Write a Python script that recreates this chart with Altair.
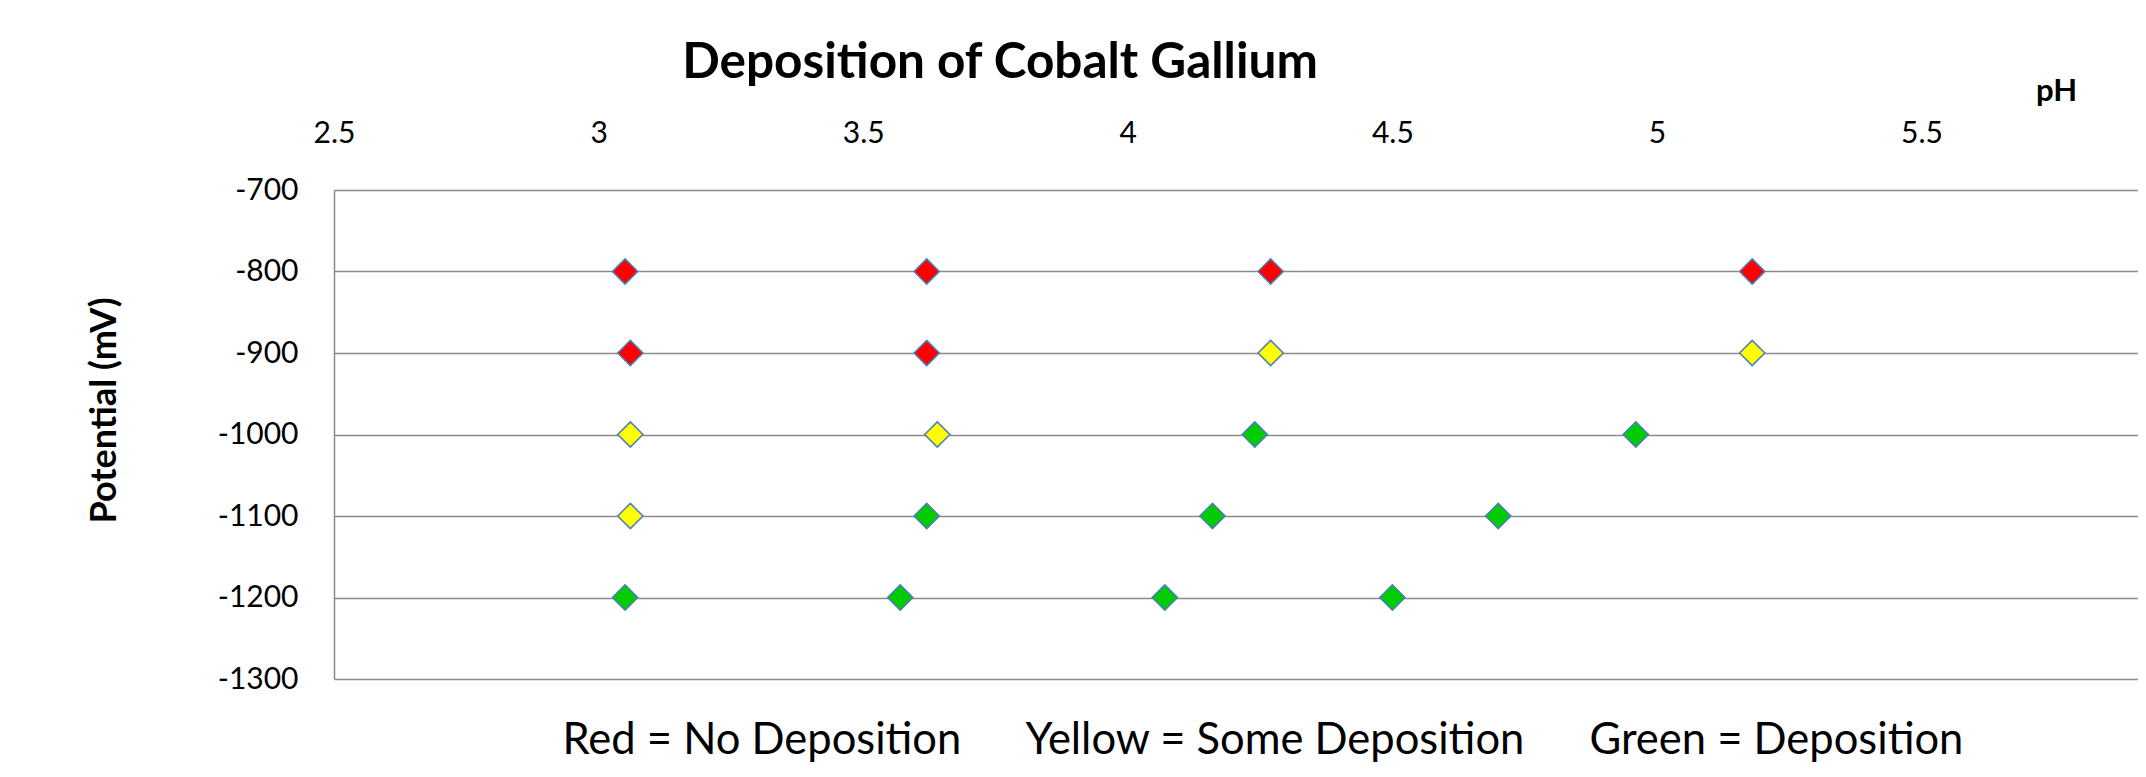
import altair as alt
import pandas as pd

# ---- data ----
ph_values = [
    3.05, 3.62, 4.27, 5.18,
    3.06, 3.62, 4.27, 5.18,
    3.06, 3.64, 4.24, 4.96,
    3.06, 3.62, 4.16, 4.70,
    3.05, 3.57, 4.07, 4.50,
]
potential_mv = [
    -800, -800, -800, -800,
    -900, -900, -900, -900,
    -1000, -1000, -1000, -1000,
    -1100, -1100, -1100, -1100,
    -1200, -1200, -1200, -1200,
]
status_labels = ["Red = No Deposition", "Yellow = Some Deposition", "Green = Deposition"]
status_colors = ["#FF0000", "#FFFF00", "#00CC00"]
R, Y, G = status_labels
statuses = [
    R, R, R, R,
    R, R, Y, Y,
    Y, Y, G, G,
    Y, G, G, G,
    G, G, G, G,
]
x_ticks = [2.5, 3, 3.5, 4, 4.5, 5, 5.5]
y_ticks = [-1300, -1200, -1100, -1000, -900, -800, -700]

df = pd.DataFrame({"pH": ph_values, "Potential": potential_mv, "Status": statuses})

FONT = "Lato"
GRID = "#8A8A8A"

chart = (
    alt.Chart(df)
    .mark_point(shape="diamond", filled=True, size=640, stroke="#4A7EBB",
                strokeWidth=1.5, opacity=1)
    .encode(
        x=alt.X(
            "pH:Q",
            scale=alt.Scale(domain=[2.5, 5.909], nice=False, zero=False),
            axis=alt.Axis(
                orient="top", values=x_ticks, format="~g", domain=False, ticks=False,
                grid=False, labelFont=FONT, labelFontSize=30, labelColor="black",
                labelPadding=42, labelFlush=False, labelOverlap=False,
                title="pH", titleFont=FONT, titleFontWeight="bold", titleFontSize=31,
                titleColor="black", titleX=1722, titleY=-90, titleAlign="center",
                titleBaseline="alphabetic", titleAngle=0,
            ),
        ),
        y=alt.Y(
            "Potential:Q",
            scale=alt.Scale(domain=[-1300, -700], nice=False, zero=False),
            axis=alt.Axis(
                values=y_ticks, labelExpr="datum.value + ''", domain=True,
                domainColor=GRID, domainWidth=1.5,
                ticks=False, grid=True, gridColor=GRID, gridWidth=1.5,
                labelFont=FONT, labelFontSize=30, labelColor="black", labelPadding=36,
                title="Potential (mV)", titleFont=FONT, titleFontSize=36,
                titleFontWeight="bold", titleColor="black", titleX=-219, titleY=220,
                titleAngle=270, titleAlign="center", titleBaseline="alphabetic",
            ),
        ),
        color=alt.Color(
            "Status:N",
            scale=alt.Scale(domain=status_labels, range=status_colors),
            legend=alt.Legend(
                title=None, orient="none", legendX=185, legendY=529,
                direction="horizontal", symbolSize=0, symbolOpacity=0,
                symbolStrokeWidth=0, labelFont=FONT, labelFontSize=43.5,
                labelColor="black", labelOffset=0, columnPadding=20, labelLimit=1000,
            ),
        ),
    )
    .properties(
        width=1804,
        height=489,
        autosize=alt.AutoSizeParams(type="none"),
        padding={"left": 326, "top": 182, "right": 0, "bottom": 85},
        title=alt.Title(
            "Deposition of Cobalt Gallium", font=FONT, fontSize=49.5, fontWeight="bold",
            color="black", anchor="middle", frame="group", dx=-236, dy=17,
        ),
    )
    .configure_view(stroke=None)
    .configure(background="white")
)

chart.save("out.html", embed_options={"renderer": "svg", "actions": False})
